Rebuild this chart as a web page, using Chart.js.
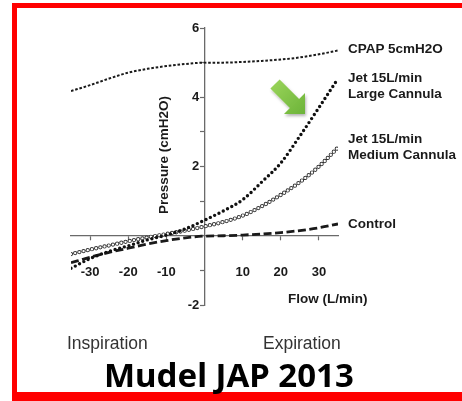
<!DOCTYPE html>
<html>
<head>
<meta charset="utf-8">
<script src="https://cdn.jsdelivr.net/npm/chart.js@4/dist/chart.umd.min.js"></script>
<style>
  body { margin: 0; background: #fff; overflow: hidden; }
  #wrap { position: relative; width: 462px; height: 401px; overflow: hidden; background: #fff; }
  .bar { position: absolute; background: #ff0000; }
  canvas { position: absolute; left: 0; top: 0; }
  .lbl { position: absolute; font-family: "Liberation Sans", Arial, sans-serif; font-weight: bold;
         font-size: 13.5px; line-height: 16px; color: #1a1a1a; white-space: nowrap; }
  .side { position: absolute; font-family: "Liberation Sans", Arial, sans-serif; font-size: 17.5px;
          line-height: 1; color: #333; white-space: nowrap; }
  #title { position: absolute; left: 104px; top: 358px; font-family: "Noto Sans", sans-serif; font-weight: bold;
           font-size: 33px; line-height: 1; color: #000; white-space: nowrap; }
  #ytitle { position: absolute; left: 164px; top: 155px; transform: translate(-50%, -50%) rotate(-90deg); }
  #arrow { position: absolute; left: 0; top: 0; }
</style>
</head>
<body>
<div id="wrap">
  <div class="bar" style="left:12px; top:3px; width:5px; height:398px;"></div>
  <div class="bar" style="left:12px; top:3px; width:450px; height:5px;"></div>
  <div class="bar" style="left:12px; top:392px; width:450px; height:9px;"></div>
  <canvas id="chart" width="462" height="401"></canvas>
  <svg id="arrow" width="462" height="401">
    <defs>
      <linearGradient id="g" x1="0" y1="0" x2="1" y2="1">
        <stop offset="0" stop-color="#9cd65c"/>
        <stop offset="1" stop-color="#6cb339"/>
      </linearGradient>
      <filter id="sh" x="-30%" y="-30%" width="160%" height="160%">
        <feDropShadow dx="1" dy="2" stdDeviation="1.5" flood-color="#000" flood-opacity="0.3"/>
      </filter>
    </defs>
    <polygon points="279.6,79.4 299.1,98.9 305,93 305,114 284,114 289.9,108.1 270.4,88.6"
             fill="url(#g)" filter="url(#sh)"/>
  </svg>
  <div class="lbl" style="left:348px; top:41px;">CPAP 5cmH2O</div>
  <div class="lbl" style="left:348px; top:70px;">Jet 15L/min<br>Large Cannula</div>
  <div class="lbl" style="left:348px; top:131px;">Jet 15L/min<br>Medium Cannula</div>
  <div class="lbl" style="left:348px; top:216px;">Control</div>
  <div class="lbl" style="left:288px; top:291px;">Flow (L/min)</div>
  <div class="lbl" id="ytitle">Pressure (cmH2O)</div>
  <div class="side" style="left:67px; top:335px;">Inspiration</div>
  <div class="side" style="left:263px; top:335px;">Expiration</div>
  <div id="title">Mudel JAP 2013</div>
</div>
<script>
// flow in L/min, pressure in cmH2O
const flow      = [-35, -30, -25, -20, -15, -10, -5, 0, 5, 10, 15, 20, 25, 30, 35];
const cpap      = [4.18, 4.35, 4.54, 4.71, 4.82, 4.90, 4.96, 5.00, 5.00, 5.02, 5.05, 5.09, 5.15, 5.24, 5.35];
const jetLarge  = [-0.94, -0.66, -0.45, -0.29, -0.12, 0.02, 0.20, 0.45, 0.72, 1.04, 1.55, 2.10, 2.88, 3.70, 4.54];
const jetMedium = [-0.53, -0.40, -0.28, -0.16, -0.05, 0.05, 0.15, 0.27, 0.40, 0.58, 0.85, 1.18, 1.55, 2.00, 2.55];
const control   = [-0.78, -0.62, -0.48, -0.36, -0.24, -0.14, -0.06, -0.01, 0.00, 0.02, 0.05, 0.09, 0.15, 0.23, 0.34];

const xTicks = [-30, -20, -10, 10, 20, 30];
const yLabels = [6, 4, 2, -2];

function pts(vals) {
    return flow.map((x, i) => ({ x: x, y: vals[i] }));
}

const tickFont = { family: '"Liberation Sans", Arial, sans-serif', size: 13, weight: 'bold' };
const axisColor = '#6a6a6a';

let base = {
    fill: false,
    pointRadius: 0,
    cubicInterpolationMode: 'monotone',
    borderColor: '#1a1a1a'
};

new Chart(document.getElementById('chart'), {
    type: 'line',
    data: {
        datasets: [
            Object.assign({}, base, { label: 'CPAP 5cmH2O', data: pts(cpap), borderWidth: 2, borderDash: [2.6, 1.8], order: 5 }),
            Object.assign({}, base, { label: 'Control', data: pts(control), borderWidth: 2.8, borderDash: [8, 3.5], order: 4 }),
            Object.assign({}, base, { label: 'Jet 15L/min Medium Cannula', data: pts(jetMedium), borderWidth: 4.3,
                borderDash: [0, 4.3], borderCapStyle: 'round', borderColor: '#333', order: 3 }),
            // white centre over the same path turns the dots into rings
            Object.assign({}, base, { label: 'Medium ring', data: pts(jetMedium), borderWidth: 2.4,
                borderDash: [0, 4.3], borderCapStyle: 'round', borderColor: '#fff', order: 2 }),
            Object.assign({}, base, { label: 'Jet 15L/min Large Cannula', data: pts(jetLarge), borderWidth: 3.4,
                borderDash: [0, 4.8], borderCapStyle: 'round', borderColor: '#111', order: 1 })
        ]
    },
    options: {
        responsive: false,
        animation: false,
        devicePixelRatio: 1,
        layout: { padding: { left: 71, top: 28, right: 124, bottom: 96 } },
        plugins: { legend: { display: false }, tooltip: { enabled: false } },
        scales: {
            x: {
                type: 'linear',
                min: -35,
                max: 35,
                position: { y: 0 },
                afterFit: function(scale) { scale.height = 0; },
                afterBuildTicks: function(scale) { scale.ticks = xTicks.map(v => ({ value: v })); },
                grid: { drawOnChartArea: false, tickLength: 4, color: axisColor, tickWidth: 1.2 },
                border: { color: axisColor, width: 1.3 },
                ticks: { autoSkip: false, maxRotation: 0, padding: 25, font: tickFont, color: '#1a1a1a' }
            },
            y: {
                type: 'linear',
                min: -2,
                max: 6,
                position: { x: 0 },
                afterFit: function(scale) { scale.width = 0; },
                grid: { drawOnChartArea: false, tickLength: 4, color: axisColor, tickWidth: 1.2 },
                border: { color: axisColor, width: 1.3 },
                ticks: {
                    stepSize: 1,
                    autoSkip: false,
                    font: tickFont,
                    color: '#1a1a1a',
                    callback: function(v) { return yLabels.includes(v) ? v + '\u2009\u2009' : ''; }
                }
            }
        }
    }
});
</script>
</body>
</html>
